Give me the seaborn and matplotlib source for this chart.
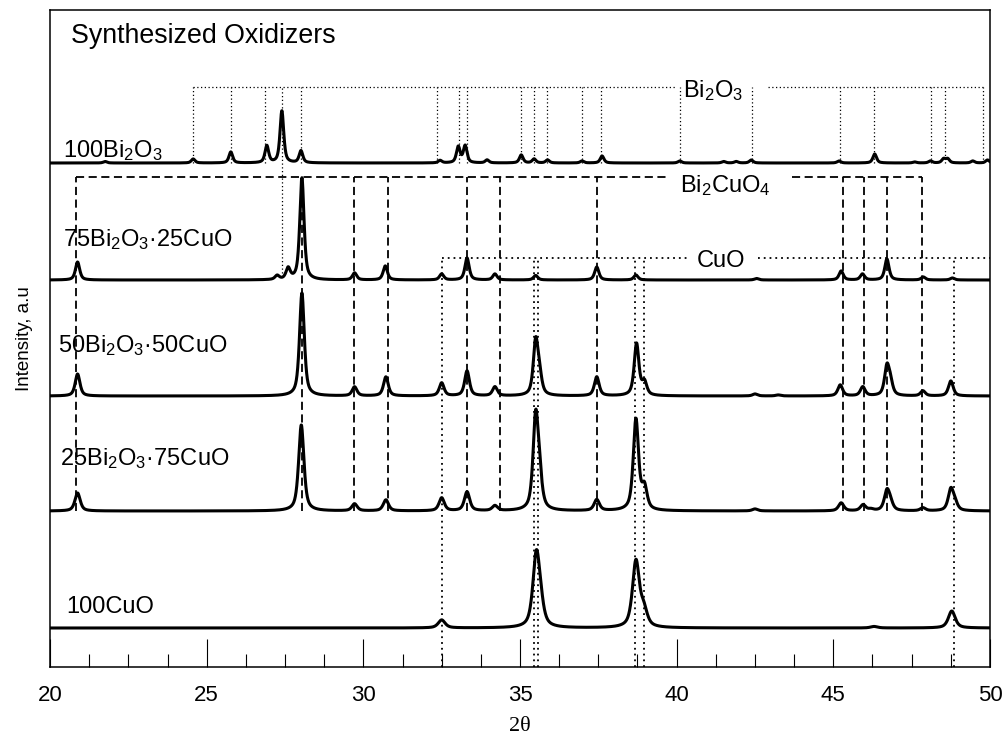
import numpy as np
import pandas as pd
import matplotlib
matplotlib.use("Agg")
import matplotlib.pyplot as plt
import seaborn as sns
from matplotlib.ticker import MultipleLocator

# ---- peak data (2theta, height above baseline) ----
bi100_pos = [21.76, 24.57, 25.77, 26.92, 27.40, 28.01, 32.45, 33.03, 33.25, 33.95, 35.04, 35.45,
             35.88, 36.98, 37.62, 40.10, 41.50, 41.90, 42.38, 45.18, 46.32, 47.60, 48.10, 48.52,
             48.65, 49.45, 49.92]
bi100_h = [1.5, 4, 11, 17, 52, 12, 2.5, 16, 17, 3, 8, 4, 3, 2, 7, 2, 1.5, 1.5, 3, 2, 9, 1, 2, 4,
           4, 2, 3]

bi75_pos = [20.88, 27.25, 27.60, 28.04, 29.72, 30.70, 32.50, 33.31, 34.20, 35.50, 37.45, 38.70,
            42.55, 45.25, 45.93, 46.71, 47.87, 48.80]
bi75_h = [18, 4, 11, 102, 7, 14, 6, 22, 6, 4.5, 13, 5, 1.5, 9, 6, 21, 3, 2]

bi50_pos = [20.88, 28.04, 29.72, 30.72, 32.50, 33.31, 34.20, 35.50, 35.62, 37.45, 38.72, 38.97,
            42.50, 43.24, 45.22, 45.94, 46.71, 46.82, 47.86, 48.75]
bi50_h = [22, 103, 9, 19, 13, 25, 9, 53, 18, 19, 52, 13, 2, 1, 11, 9, 28, 12, 5, 15]

bi25_pos = [20.88, 28.02, 29.72, 30.72, 32.50, 33.31, 34.20, 35.50, 35.62, 37.45, 38.70, 38.97,
            42.50, 45.25, 45.95, 46.20, 46.71, 46.82, 47.86, 48.75, 48.88]
bi25_h = [18, 86, 7, 11, 13, 19, 5, 91, 26, 11, 91, 22, 2, 8, 6, 1.5, 19, 7, 3, 21, 7]

cuo100_pos = [32.50, 35.52, 35.65, 38.70, 38.95, 46.30, 48.78]
cuo100_h = [8, 70, 16, 66, 16, 1.5, 17]

samples = ["100Bi$_2$O$_3$", "75Bi$_2$O$_3$·25CuO", "50Bi$_2$O$_3$·50CuO",
           "25Bi$_2$O$_3$·75CuO", "100CuO"]
offsets = [504, 387, 271, 156, 39]
fwhm = [0.14, 0.16, 0.18, 0.20, 0.26]

# reference line positions
bi2o3_ref = [24.55, 25.77, 26.86, 27.40, 28.01, 32.35, 33.05, 33.31, 35.03, 35.45, 35.86, 36.98,
             37.59, 40.11, 42.41, 45.22, 46.30, 48.12, 48.57, 49.78]
bi2cuo4_ref = [20.83, 28.04, 29.70, 30.79, 33.31, 34.36, 37.46, 45.31, 45.98, 46.71, 47.83]
cuo_ref = [32.51, 35.46, 35.56, 38.67, 38.96, 48.85]


def pattern(pos, h, w, x):
    # pseudo-Voigt peaks
    y = np.zeros_like(x)
    for p, a in zip(pos, h):
        d = (x - p) / w
        y += a * (0.65 / (1 + 4 * d ** 2) + 0.35 * np.exp(-4 * np.log(2) * d ** 2))
    return y


x = np.linspace(20, 50, 4001)
peaks = [(bi100_pos, bi100_h), (bi75_pos, bi75_h), (bi50_pos, bi50_h),
         (bi25_pos, bi25_h), (cuo100_pos, cuo100_h)]
frames = []
for name, off, w, (pp, hh) in zip(samples, offsets, fwhm, peaks):
    frames.append(pd.DataFrame({"two_theta": x, "intensity": off + pattern(pp, hh, w, x),
                                "sample": name}))
df = pd.concat(frames)

sns.set_style("white")
plt.rcParams['font.family'] = ['Liberation Sans', 'DejaVu Sans']
plt.rcParams['mathtext.fontset'] = 'custom'
plt.rcParams['mathtext.rm'] = 'Liberation Sans'
plt.rcParams['mathtext.it'] = 'Liberation Sans'
plt.rcParams['mathtext.default'] = 'rm'
plt.rcParams['text.color'] = 'black'
plt.rcParams['axes.labelcolor'] = 'black'
plt.rcParams['xtick.color'] = 'black'

fig = plt.figure(figsize=(10.07, 7.4), dpi=100)
ax = fig.add_axes([50 / 1007, 73 / 740, 940 / 1007, 657 / 740])

dot_thin = (0, (1, 2))
dot_thick = (0, (1, 2.2))
dash = (0, (4.5, 2.5))

# reference lines
ax.vlines([v for v in bi2o3_ref if v != 27.40], 504, 580, colors='black', lw=0.9,
          linestyles=dot_thin)
ax.vlines([27.40], 394, 580, colors='black', lw=0.9, linestyles=dot_thin)
ax.hlines([580, 580], [24.55, 42.9], [39.98, 49.85], colors='black', lw=0.9,
          linestyles=dot_thin)

ax.vlines(bi2cuo4_ref, 156, 490, colors='black', lw=1.3, linestyles=dash)
ax.hlines([490, 490], [20.83, 43.68], [39.69, 47.83], colors='black', lw=1.3,
          linestyles=dash)

ax.vlines(cuo_ref, 0, 409, colors='black', lw=1.3, linestyles=dot_thick)
ax.hlines([409, 409], [32.51, 42.6], [40.33, 50], colors='black', lw=1.3,
          linestyles=dot_thick)

sns.lineplot(data=df, x="two_theta", y="intensity", units="sample", estimator=None,
             color="black", lw=2.2, ax=ax, legend=False)

ax.set_xlim(20, 50)
ax.set_ylim(0, 657)
ax.xaxis.set_major_locator(MultipleLocator(5))
ax.xaxis.set_minor_locator(MultipleLocator(1.25))
ax.tick_params(axis='x', which='major', direction='in', length=20, width=0.8,
               labelsize=16, pad=13, bottom=True, colors='black')
ax.tick_params(axis='x', which='minor', direction='in', length=9.5, width=0.8, bottom=True,
               colors='black')
ax.set_yticks([])
for s in ax.spines.values():
    s.set_linewidth(1.1)
    s.set_color('black')

ax.set_xlabel("2θ", fontsize=16, family=['Liberation Serif', 'DejaVu Serif'], labelpad=8,
              color='black')
ax.set_ylabel("Intensity, a.u", fontsize=13.5, labelpad=12, color='black')

# text
ax.text(20.67, 624, "Synthesized Oxidizers", fontsize=19.3, ha='left', va='baseline',
        color='black')
lab_x = [20.41, 20.41, 20.26, 20.32, 20.51]
lab_y = [510, 421, 315, 202, 54]
for name, lx, ly in zip(samples, lab_x, lab_y):
    ax.text(lx, ly, name, fontsize=17, ha='left', va='baseline', color='black')

ax.text(40.20, 570, "Bi$_2$O$_3$", fontsize=17, ha='left', va='baseline', color='black')
ax.text(40.11, 475, "Bi$_2$CuO$_4$", fontsize=17, ha='left', va='baseline', color='black')
ax.text(40.65, 400, "CuO", fontsize=17, ha='left', va='baseline', color='black')

fig.savefig("out.png", dpi=100)
